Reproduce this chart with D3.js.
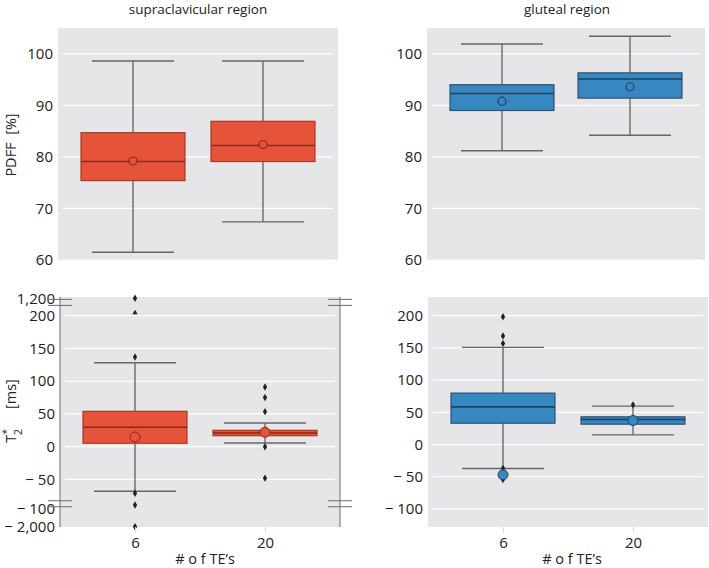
<!DOCTYPE html>
<html><head><meta charset="utf-8">
<script src="https://cdn.jsdelivr.net/npm/d3@7"></script>
<style>
html,body{margin:0;padding:0;background:#fff;}
svg{display:block;font-family:"Open Sans","Noto Sans",sans-serif;}
</style></head>
<body>
<svg id="chart" width="709" height="568"></svg>
<script>
// ---------------- DATA ----------------
const categories = ["6", "20"];
const regionTitles = ["supraclavicular region", "gluteal region"];
// box stats: [whiskerLow, Q1, median, Q3, whiskerHigh]
const supraPdffStats = [[61.5, 75.4, 79.1, 84.7, 98.6], [67.4, 79.1, 82.2, 86.9, 98.6]];
const supraPdffMeans = [79.2, 82.4];
const glutPdffStats = [[81.2, 89.0, 92.3, 94.0, 101.9], [84.2, 91.4, 95.1, 96.3, 103.4]];
const glutPdffMeans = [90.8, 93.6];
const supraT2Stats = [[-68, 5.2, 29.6, 54, 128.2], [5.6, 16.8, 21, 25, 36.2]];
const supraT2Means = [14.8, 22];
const supraT2Outliers = [[1200, 137, -71, -93, -2000], [91, 75, 53.5, 0, -48]];
const supraT2Clipped = [[203], []];
const glutT2Stats = [[-37.3, 33.1, 58.5, 79.8, 150.8], [15, 31.6, 38.9, 43, 59.6]];
const glutT2Means = [-47, 37.3];
const glutT2Outliers = [[198.4, 168.4, 157, -37, -54.4], [61.6]];
const pdffTicks = [60, 70, 80, 90, 100];
const t2BrokenTicks = [1200, 200, 150, 100, 50, 0, -50, -100, -2000];
const t2BrokenGrid = [200, 150, 100, 50, 0, -50];
const t2Ticks = [-100, -50, 0, 50, 100, 150, 200];

// ---------------- STYLE ----------------
const ORANGE = {fill: "#E6533B", edge: "#A83A27", med: "#8A2A1A"};
const BLUE = {fill: "#3787C0", edge: "#2B5374", med: "#23425E"};
const BG = "#E6E6E8";
const FONT = "'Open Sans','Noto Sans',sans-serif";
const svg = d3.select("#chart");

const fmt = v => v < 0 ? "\u2212 " + d3.format(",")(-v) : d3.format(",")(v);

function panel(opt) {
  const {x0, x1, y0, y1, y, stats, means, outliers, clipped, col, ticks, grid, meanR, meanFilled} = opt;
  const g = svg.append("g");
  g.append("rect").attr("x", x0).attr("y", y0).attr("width", x1 - x0).attr("height", y1 - y0).attr("fill", BG);
  const x = d3.scalePoint().domain(categories).range([x0 + 75, x1 - 75]);
  g.selectAll(".grid").data(grid).join("line")
    .attr("x1", x0 + 5).attr("x2", x1 - 5)
    .attr("y1", d => y(d)).attr("y2", d => y(d))
    .attr("stroke", "#fff").attr("stroke-width", 1.2);
  const ay = g.append("g").attr("transform", `translate(${x0 - 2},0)`)
    .call(d3.axisLeft(y).tickValues(ticks).tickFormat(fmt).tickSize(0).tickPadding(3));
  ay.select(".domain").remove();
  ay.selectAll("text").attr("font-size", 15).attr("fill", "#222").attr("font-family", FONT);
  const bw = 104, cw = 82;
  categories.forEach((c, i) => {
    const cx = x(c);
    const [lo, q1, md, q3, hi] = stats[i];
    const bx = g.append("g");
    bx.append("line").attr("x1", cx).attr("x2", cx).attr("y1", y(hi)).attr("y2", y(q3))
      .attr("stroke", "#555").attr("stroke-width", 1.2);
    bx.append("line").attr("x1", cx).attr("x2", cx).attr("y1", y(q1)).attr("y2", y(lo))
      .attr("stroke", "#555").attr("stroke-width", 1.2);
    [lo, hi].forEach(v => bx.append("line")
      .attr("x1", cx - cw / 2).attr("x2", cx + cw / 2).attr("y1", y(v)).attr("y2", y(v))
      .attr("stroke", "#666").attr("stroke-width", 1.4));
    bx.append("rect").attr("x", cx - bw / 2).attr("width", bw)
      .attr("y", y(q3)).attr("height", y(q1) - y(q3))
      .attr("fill", col.fill).attr("stroke", col.edge).attr("stroke-width", 1.2);
    bx.append("line").attr("x1", cx - bw / 2).attr("x2", cx + bw / 2).attr("y1", y(md)).attr("y2", y(md))
      .attr("stroke", col.med).attr("stroke-width", 1.6);
    if (outliers) {
      bx.selectAll(".out").data(outliers[i]).join("path")
        .attr("transform", d => `translate(${cx},${y(d)})`)
        .attr("d", d3.symbol().type(d3.symbolDiamond).size(16))
        .attr("fill", "#222");
    }
    if (clipped) {
      bx.selectAll(".clip").data(clipped[i]).join("path")
        .attr("transform", d => `translate(${cx},${y(d) - 1})`)
        .attr("d", d3.symbol().type(d3.symbolTriangle).size(12))
        .attr("fill", "#222");
    }
    bx.append("circle").attr("cx", cx).attr("cy", y(means[i])).attr("r", meanR)
      .attr("fill", col.fill).attr("stroke", col.med).attr("stroke-width", meanFilled ? 1 : 1.2);
  });
  return {g, x};
}

// ---------------- TOP PANELS ----------------
const yTL = d3.scaleLinear().domain([60, 105]).range([260, 28]);
panel({x0: 58, x1: 338, y0: 28, y1: 260, y: yTL, stats: supraPdffStats, means: supraPdffMeans,
  col: ORANGE, ticks: pdffTicks, grid: pdffTicks, meanR: 4});
const yTR = d3.scaleLinear().domain([60, 105]).range([260, 28]);
panel({x0: 427, x1: 705, y0: 28, y1: 260, y: yTR, stats: glutPdffStats, means: glutPdffMeans,
  col: BLUE, ticks: pdffTicks, grid: pdffTicks, meanR: 4});

// ---------------- BOTTOM PANELS ----------------
const yBL = d3.scaleLinear().domain([-2000, -100, -80, 214, 1200, 1400])
  .range([526.7, 508.3, 499.1, 306.5, 298.3, 296.7]);
const bl = panel({x0: 60, x1: 340, y0: 297, y1: 527, y: yBL, stats: supraT2Stats, means: supraT2Means,
  outliers: supraT2Outliers, clipped: supraT2Clipped, col: ORANGE, ticks: t2BrokenTicks, grid: t2BrokenGrid,
  meanR: 5, meanFilled: true});
const yBR = d3.scaleLinear().domain([-128, 229]).range([527, 297]);
const br = panel({x0: 428, x1: 708, y0: 297, y1: 527, y: yBR, stats: glutT2Stats, means: glutT2Means,
  outliers: glutT2Outliers, col: BLUE, ticks: t2Ticks, grid: t2Ticks, meanR: 5, meanFilled: true});

// spines & break marks for broken axis
[60, 340].forEach(sx => {
  svg.append("line").attr("x1", sx).attr("x2", sx).attr("y1", 297).attr("y2", 527)
    .attr("stroke", "#8a8a8a").attr("stroke-width", 1.3);
  [[-100, -80], [214, 1200]].forEach(pair => {
    const mid = (yBL(pair[0]) + yBL(pair[1])) / 2;
    [-3, 3].forEach(o => svg.append("line")
      .attr("x1", sx - 12).attr("x2", sx + 12).attr("y1", mid + o).attr("y2", mid + o)
      .attr("stroke", "#777").attr("stroke-width", 1.1));
  });
});

// x axes for bottom panels
[bl, br].forEach(p => {
  const ax = svg.append("g").attr("transform", "translate(0,527)")
    .call(d3.axisBottom(p.x).tickSize(6).tickPadding(4));
  ax.select(".domain").remove();
  ax.selectAll(".tick line").attr("stroke", "#ddd");
  ax.selectAll("text").attr("font-size", 15).attr("fill", "#222").attr("font-family", FONT);
});

// titles
svg.append("text").attr("x", 198).attr("y", 14).attr("text-anchor", "middle")
  .attr("font-size", 13.5).attr("fill", "#222").text(regionTitles[0]);
svg.append("text").attr("x", 567).attr("y", 14).attr("text-anchor", "middle")
  .attr("font-size", 13.5).attr("fill", "#222").text(regionTitles[1]);

// axis labels
svg.append("text").attr("transform", "translate(16,145) rotate(-90)").attr("text-anchor", "middle")
  .attr("font-size", 14.5).attr("fill", "#222").attr("xml:space", "preserve").text("PDFF  [%]");
const t2 = svg.append("text").attr("transform", "translate(16,411) rotate(-90)").attr("text-anchor", "middle")
  .attr("font-size", 14.5).attr("fill", "#222");
t2.append("tspan").text("T");
t2.append("tspan").attr("font-size", 10.5).attr("dy", -6).text("*");
t2.append("tspan").attr("font-size", 10.5).attr("dx", -6).attr("dy", 12).text("2");
t2.append("tspan").attr("dy", -6).attr("dx", 20).text("[ms]");

[200, 567].forEach(cx => svg.append("text").attr("x", cx + 5).attr("y", 564).attr("text-anchor", "middle")
  .attr("font-size", 14.5).attr("fill", "#222").attr("xml:space", "preserve").text("# o f TE\u2019s"));
</script>
</body></html>
